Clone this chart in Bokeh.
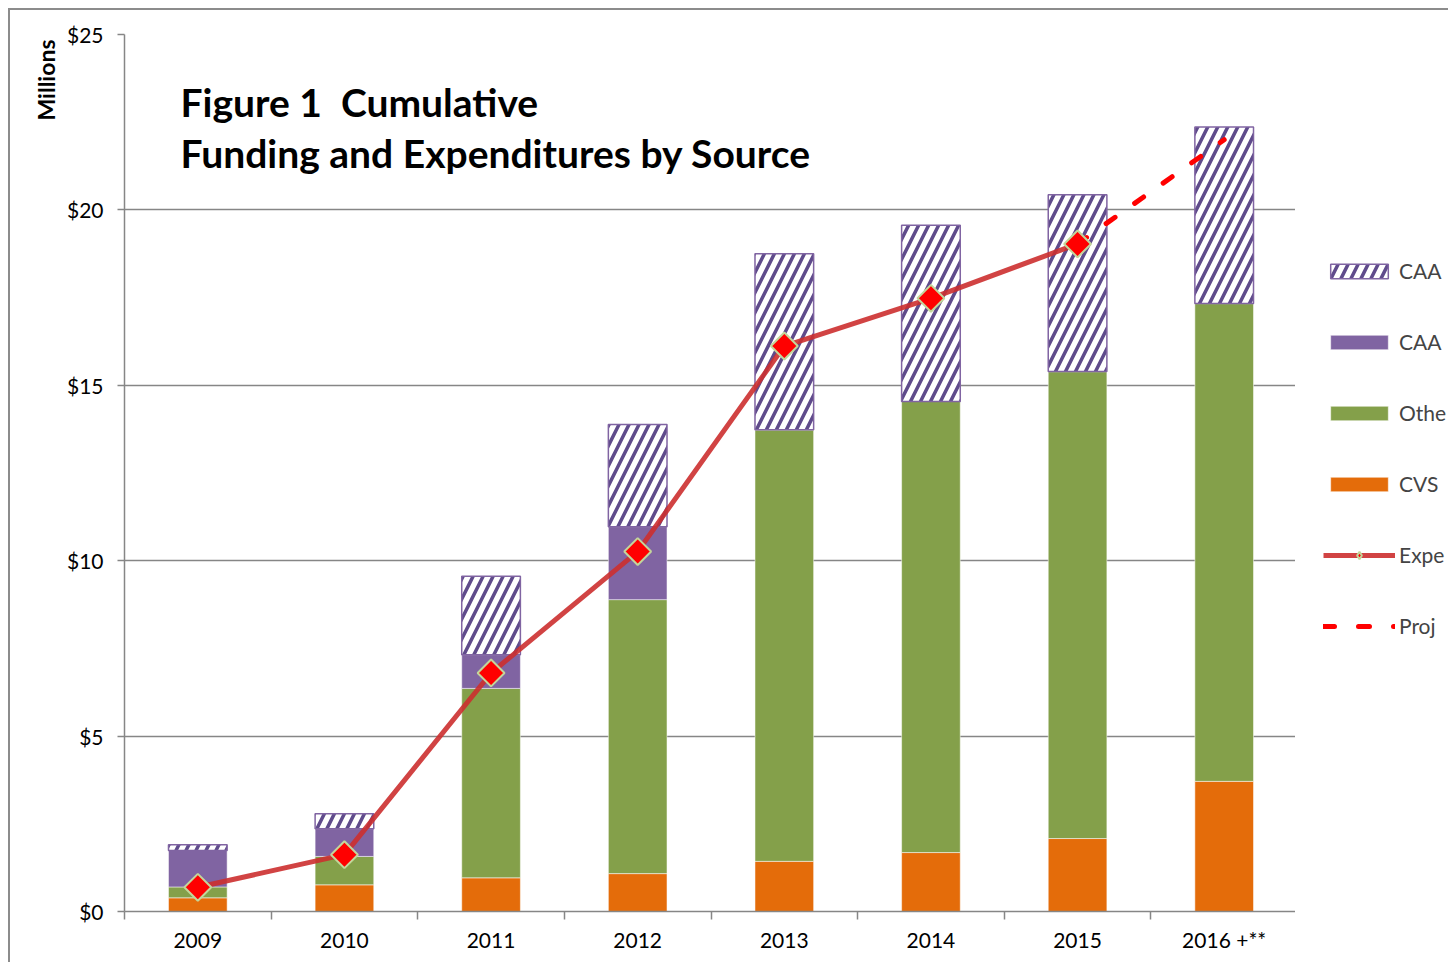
import math
from bokeh.plotting import figure
from bokeh.layouts import row
from bokeh.models import (Range1d, FixedTicker, NumeralTickFormatter, Legend, LegendItem,
                          Label, Title, ColumnDataSource)
from bokeh.transform import stack
from bokeh.embed import file_html
from bokeh.resources import INLINE

# ---- data (millions of dollars, cumulative) ----
years = ["2009", "2010", "2011", "2012", "2013", "2014", "2015", "2016 +**"]
cvs = [0.39, 0.76, 0.96, 1.08, 1.43, 1.68, 2.08, 3.71]
other = [0.31, 0.81, 5.40, 7.81, 12.30, 12.86, 13.31, 13.62]
caa_solid = [1.04, 0.79, 0.96, 2.08, 0.0, 0.0, 0.0, 0.0]
caa_hatch = [0.16, 0.43, 2.24, 2.91, 5.02, 5.02, 5.04, 5.03]
expenditures = [0.69, 1.62, 6.80, 10.26, 16.12, 17.48, 19.03]
projected = [19.03, 22.0]
y_ticks = [0, 5, 10, 15, 20, 25]
legend_labels = ["CAA", "CAA", "Othe", "CVS", "Expe", "Proj"]

FONT = "Lato"
GRID = "#868686"
ORANGE = "#e46c0a"
GREEN = "#84a04a"
PURPLE = "#8064a2"
HATCH = "#5f4b8b"
BORDER = "2px solid #8c8c8c"
NAN = float("nan")

bar_or = dict(fill_color=ORANGE, line_color="white", line_alpha=0.5, line_width=1)
bar_gr = dict(fill_color=GREEN, line_color="white", line_alpha=0.5, line_width=1)
bar_pu = dict(fill_color=PURPLE, line_color="white", line_alpha=0.5, line_width=1)
bar_ha = dict(fill_color="white", line_color=PURPLE, line_width=1.5,
              hatch_pattern="/", hatch_color=HATCH, hatch_weight=3.5, hatch_scale=20)
line_exp = dict(line_color="#cc2f2f", line_alpha=0.9, line_width=5)
line_proj = dict(line_color="#ff0000", line_width=5, line_dash="11 24", line_cap="round")
dia = dict(fill_color="#ff0000", line_color="#c3d69b", line_width=2)

xs = [i + 0.5 for i in range(len(years))]
src = ColumnDataSource(dict(x=xs, cvs=cvs, other=other, caa_solid=caa_solid, caa_hatch=caa_hatch))
exp_src = ColumnDataSource(dict(x=xs[:len(expenditures)], y=expenditures))
proj_src = ColumnDataSource(dict(x=xs[len(expenditures) - 1:], y=projected))

p = figure(width=1287, height=954, x_range=Range1d(0, len(years)), y_range=Range1d(0, 25),
           output_backend="svg", toolbar_location=None,
           min_border_left=114, min_border_right=0, min_border_top=24, min_border_bottom=53)
p.margin = (8, 0, 0, 8)
p.styles = {"border-left": BORDER, "border-top": BORDER}
p.background_fill_color = "white"
p.border_fill_color = "white"
p.outline_line_color = None

W = 0.4
p.vbar(x="x", width=W, bottom=0, top=stack("cvs"), source=src, **bar_or)
p.vbar(x="x", width=W, bottom=stack("cvs"), top=stack("cvs", "other"), source=src, **bar_gr)
p.vbar(x="x", width=W, bottom=stack("cvs", "other"), top=stack("cvs", "other", "caa_solid"),
       source=src, **bar_pu)
p.vbar(x="x", width=W, bottom=stack("cvs", "other", "caa_solid"),
       top=stack("cvs", "other", "caa_solid", "caa_hatch"), source=src, **bar_ha)
p.line(x="x", y="y", source=proj_src, **line_proj)
p.line(x="x", y="y", source=exp_src, **line_exp)
p.scatter(x="x", y="y", source=exp_src, marker="square", size=19, angle=math.pi / 4, **dia)

# axes
p.xaxis.ticker = FixedTicker(ticks=xs, minor_ticks=list(range(0, len(years) + 1)))
p.xaxis.major_label_overrides = {x: y for x, y in zip(xs, years)}
p.xaxis.major_tick_in = 0
p.xaxis.major_tick_out = 0
p.xaxis.minor_tick_in = 0
p.xaxis.minor_tick_out = 8
p.xaxis.minor_tick_line_color = GRID
p.xaxis.minor_tick_line_width = 1.5
p.xaxis.axis_line_color = GRID
p.xaxis.axis_line_width = 1.5
p.xaxis.major_label_standoff = 7
p.xaxis.major_label_text_font = FONT
p.xaxis.major_label_text_font_size = "21px"
p.xaxis.major_label_text_color = "black"
p.xgrid.visible = False

p.yaxis.ticker = FixedTicker(ticks=y_ticks)
p.yaxis.formatter = NumeralTickFormatter(format="$0")
p.yaxis.major_tick_in = 0
p.yaxis.major_tick_out = 7
p.yaxis.major_tick_line_color = GRID
p.yaxis.major_tick_line_width = 1.5
p.yaxis.minor_tick_line_color = None
p.yaxis.axis_line_color = GRID
p.yaxis.axis_line_width = 1.5
p.yaxis.major_label_standoff = 14
p.yaxis.major_label_text_font = FONT
p.yaxis.major_label_text_font_size = "21px"
p.yaxis.major_label_text_color = "black"
p.ygrid.grid_line_color = GRID
p.ygrid.grid_line_width = 1.5

# unit label at the top of the value axis
p.add_layout(Title(text="Millions", align="right", text_font=FONT, text_font_size="23px",
                   text_font_style="bold", text_color="black", standoff=8, offset=5), "left")

# title inside the plot
p.add_layout(Label(x=56, y=810, x_units="screen", y_units="screen",
                   text="Figure 1\u00a0\u00a0Cumulative",
                   text_font=FONT, text_font_size="39px", text_font_style="bold",
                   text_baseline="alphabetic", text_color="black"))
p.add_layout(Label(x=56, y=759, x_units="screen", y_units="screen",
                   text="Funding and Expenditures by Source",
                   text_font=FONT, text_font_size="39px", text_font_style="bold",
                   text_baseline="alphabetic", text_color="black"))

# legend panel (right strip of the chart)
leg = figure(width=153, height=954, x_range=Range1d(0, 1), y_range=Range1d(0, 1),
             output_backend="svg", toolbar_location=None,
             min_border_left=0, min_border_right=0, min_border_top=0, min_border_bottom=0)
leg.margin = (8, 0, 0, 0)
leg.styles = {"border-top": BORDER}
leg.axis.visible = False
leg.grid.visible = False
leg.outline_line_color = None
leg.background_fill_color = "white"
leg.border_fill_color = "white"

e = dict(x=[NAN], top=[NAN], width=0.1)
l_ha = leg.vbar(**e, **bar_ha)
l_pu = leg.vbar(**e, **bar_pu)
l_gr = leg.vbar(**e, **bar_gr)
l_or = leg.vbar(**e, **bar_or)
l_line = leg.line(x=[NAN], y=[NAN], **line_exp)
l_dia = leg.scatter(x=[NAN], y=[NAN], marker="diamond", size=12, **dia)
l_proj = leg.line(x=[NAN], y=[NAN], **line_proj)

legend = Legend(items=[
    LegendItem(label=legend_labels[0], renderers=[l_ha]),
    LegendItem(label=legend_labels[1], renderers=[l_pu]),
    LegendItem(label=legend_labels[2], renderers=[l_gr]),
    LegendItem(label=legend_labels[3], renderers=[l_or]),
    LegendItem(label=legend_labels[4], renderers=[l_line, l_dia]),
    LegendItem(label=legend_labels[5], renderers=[l_proj]),
], location=(28, 273), orientation="vertical")
legend.padding = 0
legend.margin = 0
legend.spacing = 46
legend.glyph_width = 72
legend.glyph_height = 18
legend.label_height = 18
legend.label_standoff = 4
legend.label_text_font = FONT
legend.label_text_font_size = "21px"
legend.label_text_baseline = "middle"
legend.border_line_color = None
legend.background_fill_alpha = 0
leg.add_layout(legend)

layout = row(p, leg, spacing=0)
open("out.html", "w").write(file_html(layout, INLINE))
